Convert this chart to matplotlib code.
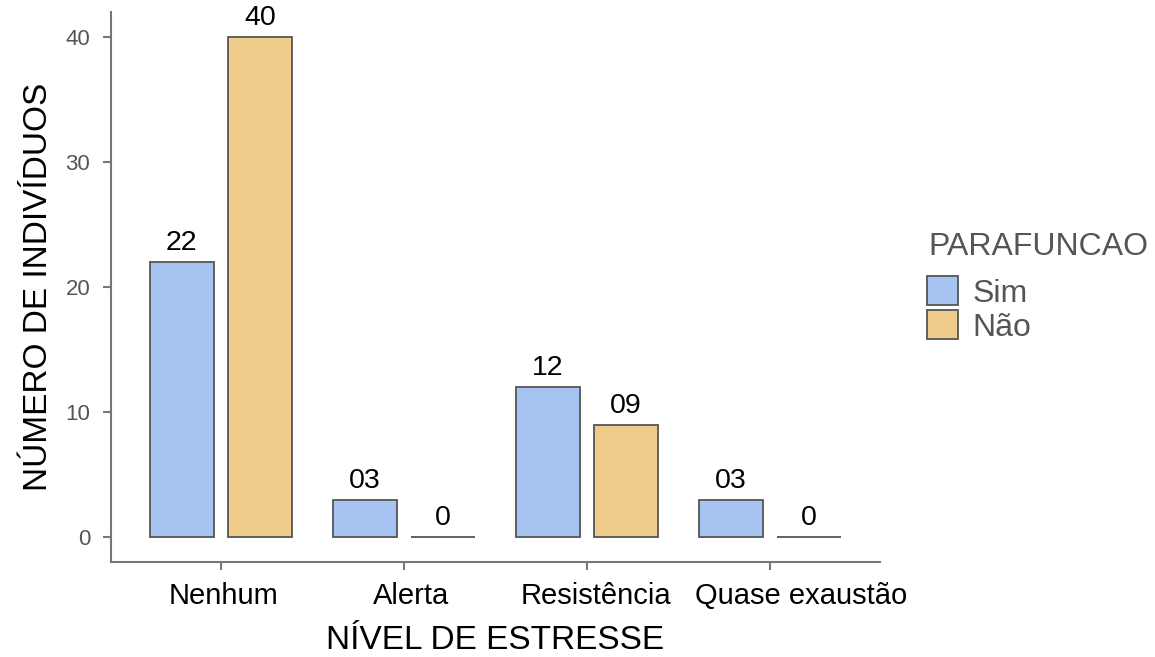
import matplotlib
matplotlib.use('Agg')
import matplotlib.pyplot as plt
import numpy as np

niveis = ['Nenhum', 'Alerta', 'Resistência', 'Quase exaustão']
sim = [22, 3, 12, 3]
nao = [40, 0, 9, 0]
rotulos_sim = ['22', '03', '12', '03']
rotulos_nao = ['40', '0', '09', '0']
yticks = [0, 10, 20, 30, 40]

plt.rcParams['font.family'] = ['Liberation Sans', 'DejaVu Sans']

fig = plt.figure(figsize=(11.55, 6.57), dpi=100)
ax = fig.add_axes([0.0961, 0.1446, 0.6658, 0.837])

x = np.arange(len(niveis))
w = 0.35
off = 0.213
cor_sim = '#A6C4F1'
cor_nao = '#EFCC8C'
borda = '#555555'

b1 = ax.bar(x - off, sim, w, color=cor_sim, edgecolor=borda, linewidth=1.3, label='Sim')
b2 = ax.bar(x + off, nao, w, color=cor_nao, edgecolor=borda, linewidth=1.3, label='Não')

for xi, v, t in zip(x - off, sim, rotulos_sim):
    ax.text(xi, v + 0.45, t, ha='center', va='bottom', fontsize=20.5)
for xi, v, t in zip(x + off, nao, rotulos_nao):
    ax.text(xi, v + 0.45, t, ha='center', va='bottom', fontsize=20.5)

ax.set_xlim(-0.6, 3.6)
ax.set_ylim(-2, 42)
ax.set_xticks(x)
ax.set_xticklabels([])
ax.set_yticks(yticks)
ax.set_yticklabels([str(t) for t in yticks], fontsize=16, color='#555555')

# rótulos do eixo x, deslocados para a direita como no original
desloc = [3, 7, 9, 31]
for xi, nome, d in zip(x, niveis, desloc):
    ax.annotate(nome, xy=(xi, 0), xycoords=('data', 'axes fraction'),
                xytext=(d, -20), textcoords='offset pixels',
                ha='center', va='top', fontsize=21, annotation_clip=False)

for s in ['top', 'right']:
    ax.spines[s].set_visible(False)
for s in ['left', 'bottom']:
    ax.spines[s].set_color('#777777')
    ax.spines[s].set_linewidth(1.5)
ax.tick_params(axis='both', length=6, width=1.5, color='#777777')
ax.tick_params(axis='y', pad=9)

ax.set_xlabel('NÍVEL DE ESTRESSE', fontsize=24, labelpad=36)
ax.set_ylabel('NÚMERO DE INDIVÍDUOS', fontsize=24, labelpad=8)

fig.text(928 / 1155, 1 - 247 / 657, 'PARAFUNCAO', fontsize=23, color='#555555',
         ha='left', va='center')
leg = fig.legend(handles=[b1, b2], labels=['Sim', 'Não'],
                 loc='upper left', bbox_to_anchor=(0.7773, 0.623), frameon=False,
                 fontsize=23, handlelength=1.0, handleheight=1.0,
                 handletextpad=0.45, labelspacing=0.05)
for t in leg.get_texts():
    t.set_color('#555555')

fig.savefig('out.png', dpi=100)
